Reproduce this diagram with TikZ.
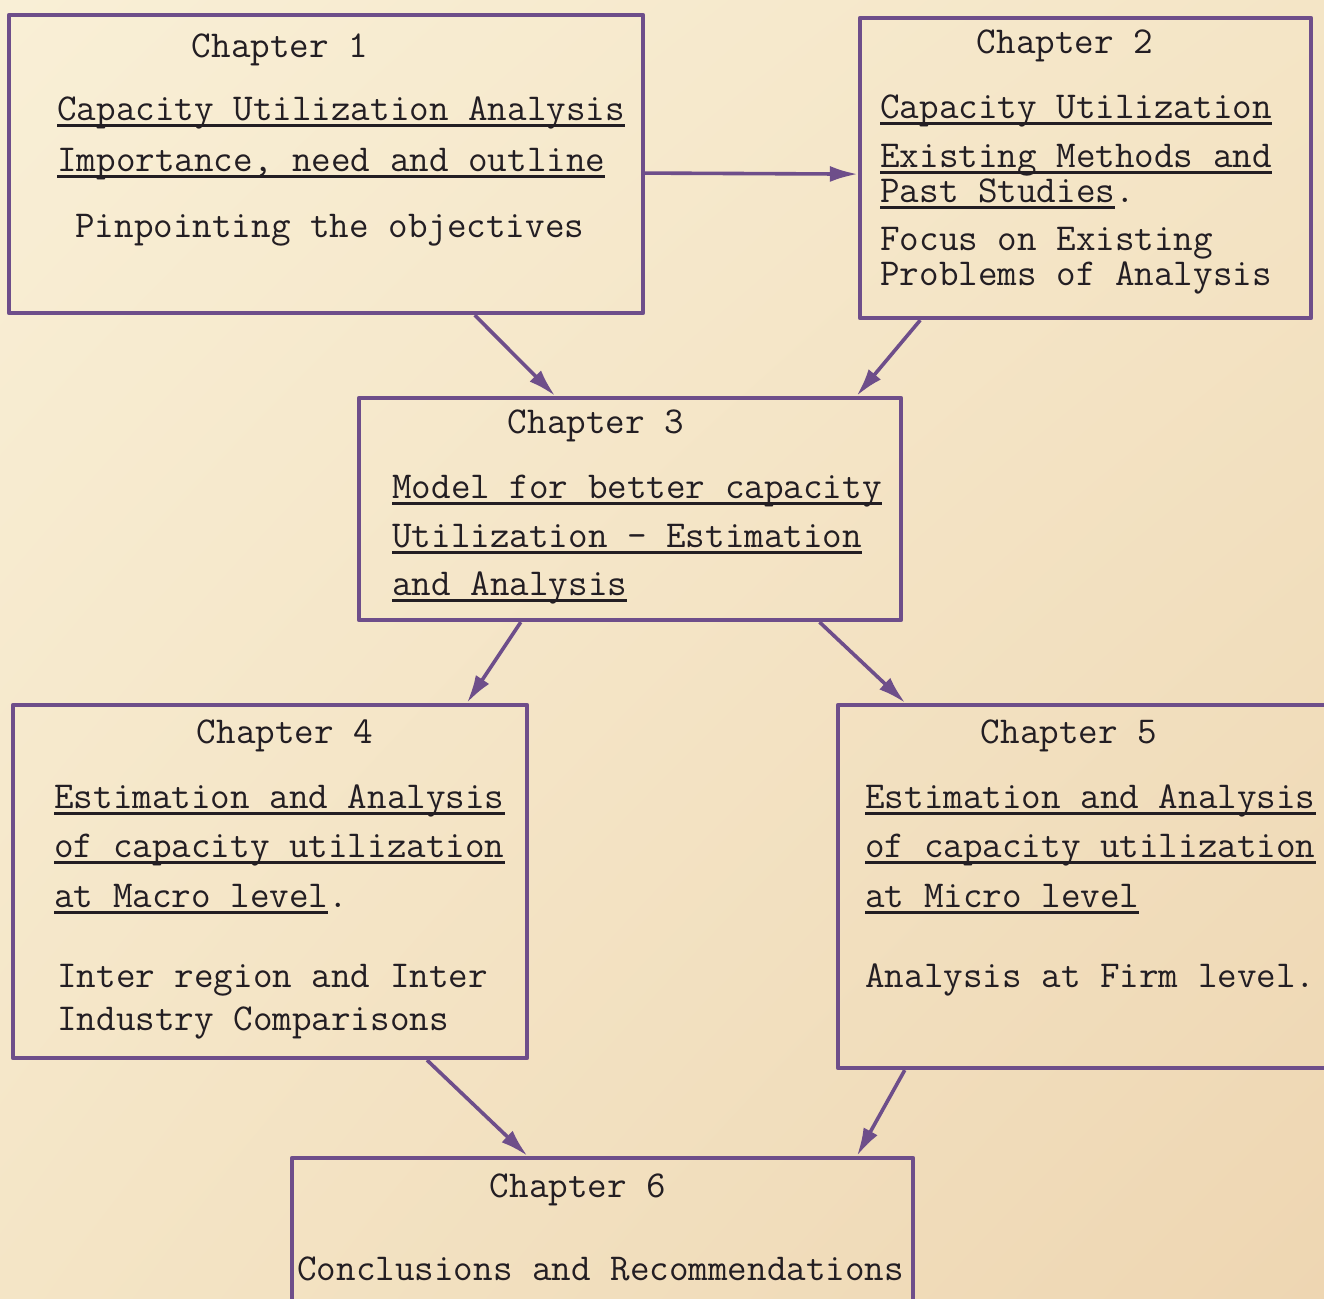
\documentclass[tikz,border=0pt]{standalone}
\usetikzlibrary{arrows.meta,calc,fit,shadings}
\definecolor{paperhi}{RGB}{249,239,214}
\definecolor{paper}{RGB}{244,229,198}
\definecolor{paperlo}{RGB}{238,214,178}
\definecolor{ink}{RGB}{110,78,138}
\definecolor{typeink}{RGB}{35,30,35}
% typed underline, drawn through the descenders
\newcommand\ulin[1]{\setbox0\hbox{#1}\rlap{\smash{\rule[-3.6pt]{\wd0}{1.6pt}}}\box0}
\tikzset{
  chbox/.style={rectangle, draw=ink, line width=2.1pt, inner sep=0pt},
  typed/.style={inner sep=0pt, anchor=base west, text=typeink, font={\ttfamily\fontsize{19}{22}\selectfont}},
  chead/.style={typed, anchor=base},
  flow/.style={draw=ink, line width=1.8pt, -{Latex[length=14pt,width=8pt]}}
}
\begin{document}
\begin{tikzpicture}[x=0.5pt, y=-0.5pt, line join=round]
  \shade[upper left=paperhi, upper right=paper, lower left=paper, lower right=paperlo] (0,0) rectangle (1324,1298);
  \useasboundingbox (0,0) rectangle (1324,1298);
  \clip (0,0) rectangle (1324,1298);
  % the six chapters
  \node[chbox, fit={(9,15) (643,313)}] (b1) {};
  \node[chbox, fit={(860,18) (1311,318)}] (b2) {};
  \node[chbox, fit={(359,398) (901,620)}] (b3) {};
  \node[chbox, fit={(13,705) (527,1058)}] (b4) {};
  \node[chbox, fit={(838,705) (1340,1068)}] (b5) {};
  \node[chbox, fit={(292,1158) (913,1320)}] (b6) {};
  % chapter 1
  \node[chead] (h1) at (280,57) {Chapter 1};
  \node[typed] (t1a) at (57,120) {\ulin{Capacity Utilization Analysis}};
  \node[typed] (t1b) at (57,171) {\ulin{Importance, need and outline}};
  \node[typed] (t1c) at (75,237) {Pinpointing the objectives};
  % chapter 2
  \node[chead] (h2) at (1065,53) {Chapter 2};
  \node[typed] (t2a) at (880,118) {\ulin{Capacity Utilization}};
  \node[typed] (t2b) at (880,167) {\ulin{Existing Methods and}};
  \node[typed] (t2c) at (880,202) {\ulin{Past Studies}.};
  \node[typed] (t2d) at (880,250) {Focus on Existing};
  \node[typed] (t2e) at (880,285) {Problems of Analysis};
  % chapter 3
  \node[chead] (h3) at (596,433) {Chapter 3};
  \node[typed] (t3a) at (392,498) {\ulin{Model for better capacity}};
  \node[typed] (t3b) at (392,547) {\ulin{Utilization - Estimation}};
  \node[typed] (t3c) at (392,595) {\ulin{and Analysis}};
  % chapter 4
  \node[chead] (h4) at (285,743) {Chapter 4};
  \node[typed] (t4a) at (54,808) {\ulin{Estimation and Analysis}};
  \node[typed] (t4b) at (54,857) {\ulin{of capacity utilization}};
  \node[typed] (t4c) at (54,907) {\ulin{at Macro level}.};
  \node[typed] (t4d) at (57,987) {Inter region and Inter};
  \node[typed] (t4e) at (57,1030) {Industry Comparisons};
  % chapter 5
  \node[chead] (h5) at (1069,743) {Chapter 5};
  \node[typed] (t5a) at (865,808) {\ulin{Estimation and Analysis}};
  \node[typed] (t5b) at (865,857) {\ulin{of capacity utilization}};
  \node[typed] (t5c) at (865,907) {\ulin{at Micro level}};
  \node[typed] (t5d) at (865,987) {Analysis at Firm level.};
  % chapter 6
  \node[chead] (h6) at (578,1197) {Chapter 6};
  \node[typed] (t6a) at (297,1280) {Conclusions and Recommendations};
  % arrows
  \draw[flow] ($(b1.north east)!.53!(b1.south east)$) -- ($(b2.north west)!.52!(b2.south west)$);
  \draw[flow] ($(b1.south west)!.733!(b1.south east)$) -- ($(b3.north west)!.363!(b3.north east)$);
  \draw[flow] ($(b2.south west)!.137!(b2.south east)$) -- ($(b3.north west)!.915!(b3.north east)$);
  \draw[flow] ($(b3.south west)!.30!(b3.south east)$) -- ($(b4.north west)!.88!(b4.north east)$);
  \draw[flow] ($(b3.south west)!.847!(b3.south east)$) -- ($(b5.north west)!.137!(b5.north east)$);
  \draw[flow] ($(b4.south west)!.803!(b4.south east)$) -- ($(b6.north west)!.38!(b6.north east)$);
  \draw[flow] ($(b5.south west)!.136!(b5.south east)$) -- ($(b6.north west)!.907!(b6.north east)$);
\end{tikzpicture}
\end{document}
